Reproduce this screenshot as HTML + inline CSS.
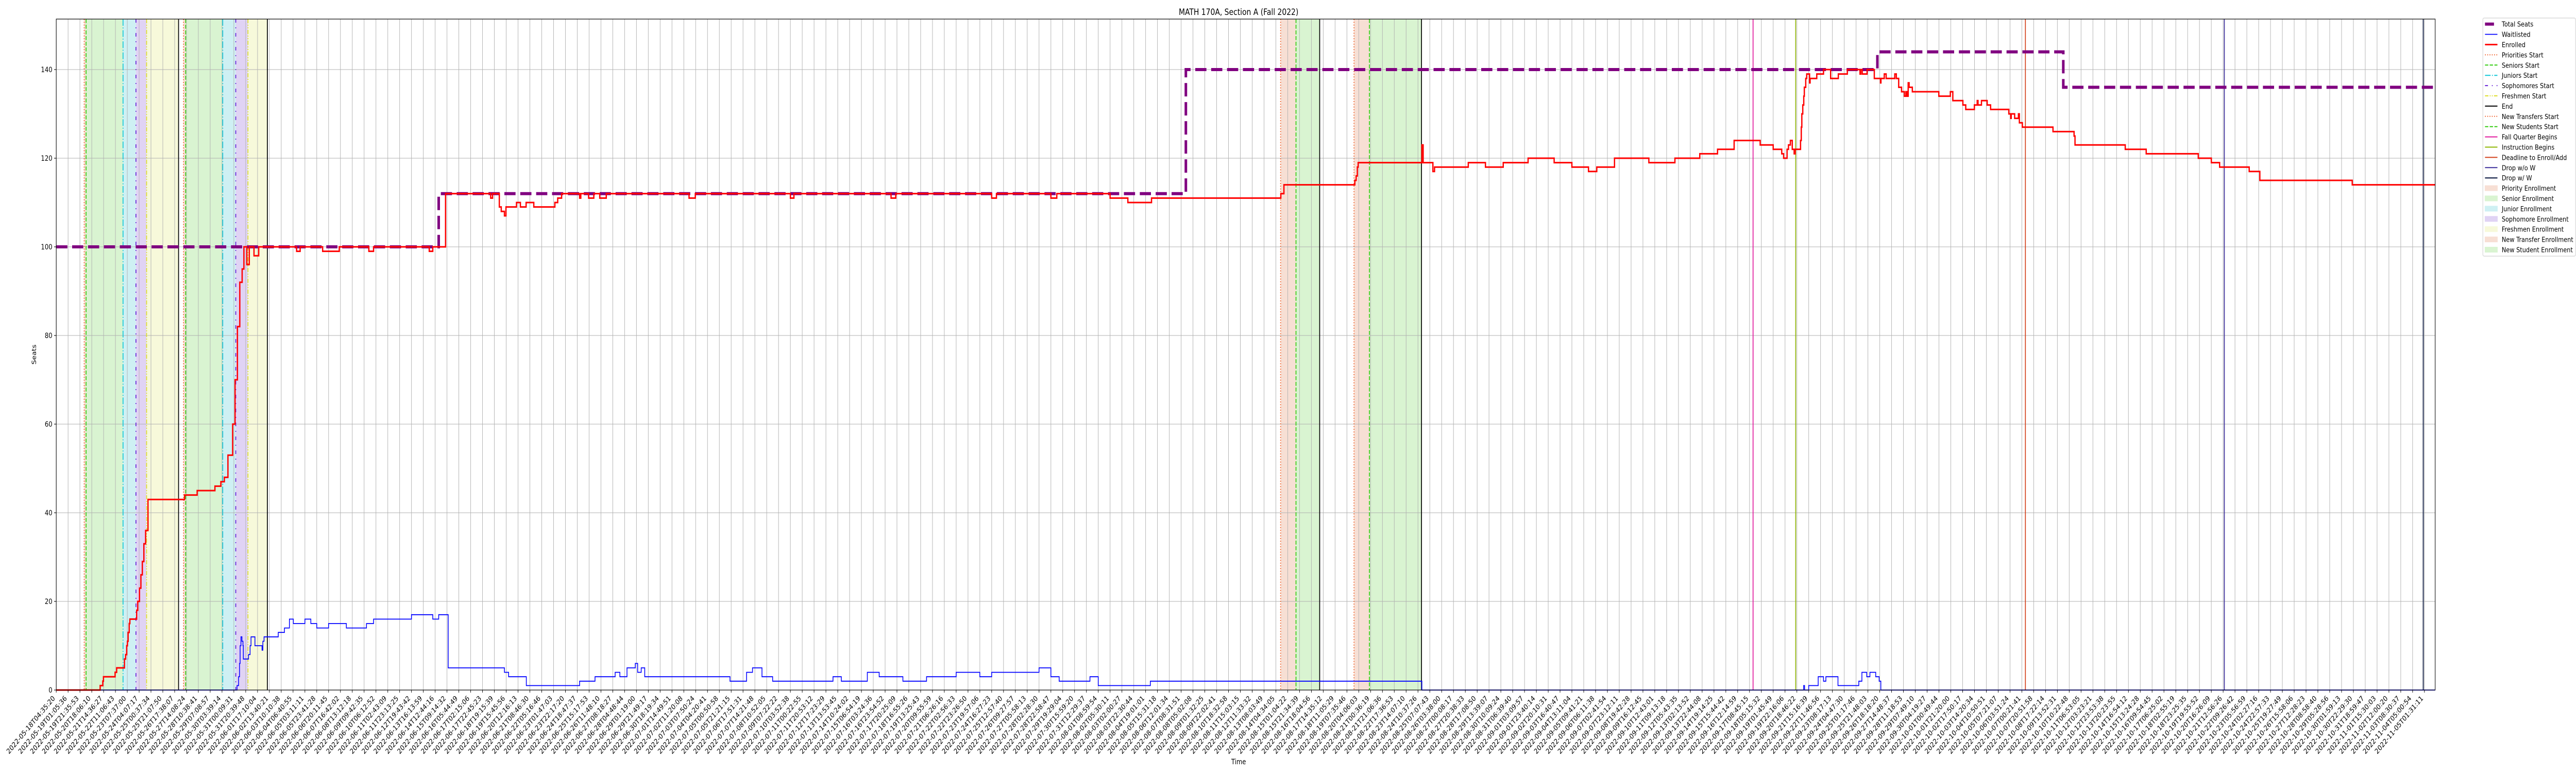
<!DOCTYPE html>
<html><head><meta charset="utf-8"><title>MATH 170A, Section A (Fall 2022)</title>
<style>
html,body{margin:0;padding:0;background:#fff;width:100%;height:100%;overflow:hidden;}
svg{display:block;width:100vw;height:100vh;font-family:"DejaVu Sans","Liberation Sans",sans-serif;}
</style></head>
<body>
<svg id="chart" viewBox="0 0 6000 1500" preserveAspectRatio="none" xmlns="http://www.w3.org/2000/svg" overflow="hidden">
<rect x="0" y="0" width="6000" height="1500" fill="#fff"/>
<text x="2885" y="29" text-anchor="middle" font-size="16.7" fill="#000">MATH 170A, Section A (Fall 2022)</text>
<text x="2885" y="1483" text-anchor="middle" font-size="14" fill="#000">Time</text>
<text x="0" y="0" transform="translate(84,688) rotate(-90)" text-anchor="middle" font-size="14" fill="#000">Seats</text>
<g id="spans"></g><g id="grid"></g><g id="vlines"></g><g id="series"></g><g id="axes"></g><g id="legend"></g>
</svg>
<script>
// ---- data ----
const tickStart = "2022-05-18T04:35:20";
const tickEnd = "2022-11-05T01:31:11";
const tickCount = 201;
const yTicks = [0, 20, 40, 60, 80, 100, 120, 140];

const seatsT = [0, 32.3, 95.4, 153.8, 169.5];
const seatsV = [100, 112, 140, 144, 136];

const enrolledT = [0,3.71,3.93,3.99,4.97,5.1,5.76,5.86,5.95,6.01,6.07,6.16,6.22,6.79,6.88,7.03,7.15,7.27,7.4,7.55,7.75,10.84,11.9,13.4,13.9,14.2,14.5,14.9,15.1,15.3,15.5,15.7,15.85,16.1,16.3,16.7,17.1,20.3,20.6,22.5,23.9,26.4,26.8,31.5,31.8,32.88,36.69,36.85,37.42,37.58,37.85,37.98,38.87,39.2,39.68,40.33,42.11,42.35,42.68,44.2,44.3,44.96,45.4,45.9,46.45,53.44,53.97,62,62.3,70.5,70.9,79,79.4,84,84.5,89,90.5,92.5,103.42,103.68,109.67,109.78,109.88,109.95,115.33,115.44,116.26,116.4,119.25,120.7,122.2,124.3,126.5,128,129.4,130.1,131.6,134.5,136.7,138.8,140.3,141.7,143.9,145,145.72,145.88,146.17,146.29,146.45,146.61,146.77,146.86,147.31,147.37,147.42,147.5,147.58,147.63,147.75,147.83,148.07,148.12,148.68,149.25,149.85,150.5,151.26,152.33,152.4,152.52,152.93,153.54,154.06,154.1,154.38,154.54,155.27,155.4,155.6,155.84,156.08,156.21,156.32,156.4,156.48,156.75,158.99,159.96,160.17,161.02,161.26,161.99,162.23,162.3,162.59,163.07,163.36,164.9,165.06,165.1,165.39,165.71,165.79,166.04,168.63,170.41,170.49,174.73,176.5,180.9,182,182.7,185.2,186.1,193.9];
const enrolledV = [0,1,2,3,4,5,7,8,10,11,13,15,16,18,20,23,26,29,33,36,43,44,45,46,47,48,53,60,70,82,92,95,100,96,100,98,100,99,100,99,100,99,100,99,100,112,111,112,109,108,107,109,110,109,110,109,110,111,112,111,112,111,112,111,112,111,112,111,112,111,112,111,112,111,112,111,110,111,112,114,115,116,118,119,123,119,117,118,119,118,119,120,119,118,117,118,120,119,120,121,122,124,123,122,121,120,122,123,124,122,121,122,124,127,130,132,134,136,138,139,137,138,139,140,138,139,140,139,140,139,140,138,137,138,139,138,139,138,136,135,134,135,134,137,136,135,134,135,133,132,131,132,133,132,133,132,131,130,129,130,129,130,128,127,126,125,123,122,121,120,119,118,117,115,114];

const waitT = [0,15.27,15.32,15.4,15.48,15.53,15.6,15.68,15.77,15.8,16.24,16.37,16.45,16.78,17.38,17.45,17.55,18.75,19.27,19.69,20.02,21,21.5,22,23,24.5,26.2,26.8,30,31.8,32.3,33.1,37.85,38.2,39.7,44.2,45.5,47.2,47.6,48.2,48.9,49.1,49.4,49.7,56.9,58.3,58.8,59.6,60.5,65.6,66.3,68.5,69.5,71.5,73.5,76,78,79,83,84,84.7,87.3,88,92.4,115.33,147.57,147.65,148,148.8,149.25,149.45,150.47,152.23,152.49,152.9,153.17,153.66,153.95,154.09];
const waitV = [0,1,1,3,6,10,12,11,10,7,8,10,12,10,9,11,12,13,14,16,15,16,15,14,15,14,15,16,17,16,17,5,4,3,1,2,3,4,3,5,6,4,5,3,2,4,5,3,2,3,2,4,3,2,3,4,3,4,5,3,2,3,1,2,0,1,0,1,3,2,3,1,2,4,3,4,3,2,0];

const spanNames = ["priority-enrollment","senior-enrollment","junior-enrollment","sophomore-enrollment","freshmen-enrollment","priority-enrollment","senior-enrollment","junior-enrollment","sophomore-enrollment","freshmen-enrollment","new-transfer-enrollment","new-student-enrollment","new-transfer-enrollment","new-student-enrollment"];
const spanStart = [2.36,2.52,5.64,6.73,7.63,10.75,10.93,14.06,15.16,16.19,103.4,104.7,109.6,110.9];
const spanEnd = [2.52,5.64,6.73,7.63,10.33,10.93,14.06,15.16,16.19,17.83,104.7,106.7,110.9,115.3];

const vlineNames = ["priorities-start","seniors-start","juniors-start","sophomores-start","freshmen-start","end","priorities-start","seniors-start","juniors-start","sophomores-start","freshmen-start","end","new-transfers-start","new-students-start","end","new-transfers-start","new-students-start","end","fall-quarter-begins","instruction-begins","deadline-to-enroll","drop-without-w","drop-with-w"];
const vlineT = [2.36,2.52,5.64,6.73,7.63,10.33,10.75,10.93,14.06,15.16,16.19,17.83,103.4,104.7,106.7,109.6,110.9,115.3,143.3,146.9,166.3,183.1,199.9];

// ---- styles (not data) ----
const spanColor = {"priority-enrollment":"#f7dfd4","senior-enrollment":"#d9f4d1","junior-enrollment":"#cef0f3","sophomore-enrollment":"#e0d3f4","freshmen-enrollment":"#f7f9da","new-transfer-enrollment":"#f7dfd4","new-student-enrollment":"#d9f4d1"};
const vStyle = {
 "priorities-start":["#f0602a","2 3.3",2],
 "seniors-start":["#33cc11","7.7 3.3",2],
 "juniors-start":["#11c8d8","13 3.3 2 3.3",2],
 "sophomores-start":["#6620d8","7 9 2 9",2],
 "freshmen-start":["#dede2a","8 3 2 3 2 3",2],
 "end":["#000","",2],
 "new-transfers-start":["#f0602a","2 3.3",2],
 "new-students-start":["#33cc11","7.7 3.3",2],
 "fall-quarter-begins":["#e0189c","",2],
 "instruction-begins":["#8db600","",2],
 "deadline-to-enroll":["#d2401a","",2],
 "drop-without-w":["#3b2d9a","",2],
 "drop-with-w":["#2f3a5c","",2.5]
};

const X0 = 131, DX = 27.58, Y0 = 1339, DY = 8.6, TOP = 37, RIGHT = 5672, TEND = 200.9;
function xs(t){ return X0 + t*DX; }
function ys(v){ return Y0 - v*DY; }
const NS = "http://www.w3.org/2000/svg";
function mk(tag, attrs, parent){ const e = document.createElementNS(NS, tag); for (const k in attrs) e.setAttribute(k, attrs[k]); parent.appendChild(e); return e; }
const gSpans = document.getElementById("spans"), gGrid = document.getElementById("grid"), gV = document.getElementById("vlines"), gS = document.getElementById("series"), gA = document.getElementById("axes"), gL = document.getElementById("legend");

for (let i = 0; i < spanStart.length; i++) {
  const r = mk("rect", {x: xs(spanStart[i]), y: TOP, width: xs(spanEnd[i]) - xs(spanStart[i]), height: Y0 - TOP, fill: spanColor[spanNames[i]]}, gSpans);
  
  
}
const t0 = Date.parse(tickStart + "Z"), t1 = Date.parse(tickEnd + "Z");
for (let i = 0; i < tickCount; i++) {
  const x = xs(i);
  const gl = mk("line", {x1: x, x2: x, y1: TOP, y2: Y0, stroke: "#b0b0b0", "stroke-width": 1.1}, gGrid);
  
  
  const tk = mk("line", {x1: x, x2: x, y1: Y0, y2: Y0 + 5, stroke: "#000", "stroke-width": 1.1}, gA);
  
  
  const d = new Date(t0 + (t1 - t0) * i / (tickCount - 1));
  const lbl = d.toISOString().slice(0, 19);
  const tx = mk("text", {x: x - 2, y: 1356, "text-anchor": "end", "font-size": 14, fill: "#000", transform: "rotate(-45 " + (x - 2) + " 1356)"}, gA);
  tx.textContent = lbl;
  
  
}
for (const v of yTicks) {
  const y = ys(v);
  const gl = mk("line", {x1: X0, x2: RIGHT, y1: y, y2: y, stroke: "#b0b0b0", "stroke-width": 1.1}, gGrid);
  
  
  const tk = mk("line", {x1: X0 - 5, x2: X0, y1: y, y2: y, stroke: "#000", "stroke-width": 1.1}, gA);
  
  
  const tx = mk("text", {x: X0 - 9, y: y + 5, "text-anchor": "end", "font-size": 14, fill: "#000"}, gA);
  tx.textContent = String(v);
  
  
}
for (let i = 0; i < vlineT.length; i++) {
  const s = vStyle[vlineNames[i]];
  const a = {x1: xs(vlineT[i]), x2: xs(vlineT[i]), y1: TOP, y2: Y0, stroke: s[0], "stroke-width": s[2]};
  if (s[1]) a["stroke-dasharray"] = s[1];
  const l = mk("line", a, gV);
  
  
}
function stepPath(T, V){
  let d = "M" + xs(T[0]).toFixed(1) + "," + ys(V[0]).toFixed(1);
  for (let i = 1; i < T.length; i++) {
    d += "L" + xs(T[i]).toFixed(1) + "," + ys(V[i-1]).toFixed(1) + "L" + xs(T[i]).toFixed(1) + "," + ys(V[i]).toFixed(1);
  }
  d += "L" + xs(TEND).toFixed(1) + "," + ys(V[V.length-1]).toFixed(1);
  return d;
}
const pSeats = mk("path", {d: stepPath(seatsT, seatsV), fill: "none", stroke: "#800080", "stroke-width": 6, "stroke-dasharray": "26 11"}, gS);


const pWait = mk("path", {d: stepPath(waitT, waitV), fill: "none", stroke: "#0000ff", "stroke-width": 1.8}, gS);


const pEnr = mk("path", {d: stepPath(enrolledT, enrolledV), fill: "none", stroke: "#ff0000", "stroke-width": 3}, gS);


const fr = mk("rect", {x: X0, y: TOP, width: RIGHT - X0, height: Y0 - TOP, fill: "none", stroke: "#000", "stroke-width": 1.2}, gA);



const legLabels = ["Total Seats","Waitlisted","Enrolled","Priorities Start","Seniors Start","Juniors Start","Sophomores Start","Freshmen Start","End","New Transfers Start","New Students Start","Fall Quarter Begins","Instruction Begins","Deadline to Enroll/Add","Drop w/o W","Drop w/ W","Priority Enrollment","Senior Enrollment","Junior Enrollment","Sophomore Enrollment","Freshmen Enrollment","New Transfer Enrollment","New Student Enrollment"];
const legKeys = ["seats","wait","enr","priorities-start","seniors-start","juniors-start","sophomores-start","freshmen-start","end","new-transfers-start","new-students-start","fall-quarter-begins","instruction-begins","deadline-to-enroll","drop-without-w","drop-with-w","priority-enrollment","senior-enrollment","junior-enrollment","sophomore-enrollment","freshmen-enrollment","new-transfer-enrollment","new-student-enrollment"];
const lb = mk("rect", {x: 5783, y: 35, width: 216, height: 462, rx: 3, fill: "#fff", stroke: "#d0d0d0", "stroke-width": 1.2}, gL);


for (let i = 0; i < legLabels.length; i++) {
  const cy = 46.7 + 19.9 * i;
  const k = legKeys[i];
  let h;
  if (k === "seats") h = mk("line", {x1: 5788, x2: 5809, y1: cy, y2: cy, stroke: "#800080", "stroke-width": 6}, gL);
  else if (k === "wait") h = mk("line", {x1: 5788, x2: 5817, y1: cy, y2: cy, stroke: "#0000ff", "stroke-width": 1.8}, gL);
  else if (k === "enr") h = mk("line", {x1: 5788, x2: 5817, y1: cy, y2: cy, stroke: "#ff0000", "stroke-width": 3}, gL);
  else if (vStyle[k]) {
    const s = vStyle[k];
    const a = {x1: 5788, x2: 5817, y1: cy, y2: cy, stroke: s[0], "stroke-width": s[2]};
    if (s[1]) a["stroke-dasharray"] = s[1];
    h = mk("line", a, gL);
  } else h = mk("rect", {x: 5788, y: cy - 5, width: 29, height: 10, fill: spanColor[k], stroke: spanColor[k]}, gL);
  
  
  const t = mk("text", {x: 5827, y: cy + 5, "font-size": 13.6, fill: "#000"}, gL);
  t.textContent = legLabels[i];
  
  
}
</script>
</body></html>
